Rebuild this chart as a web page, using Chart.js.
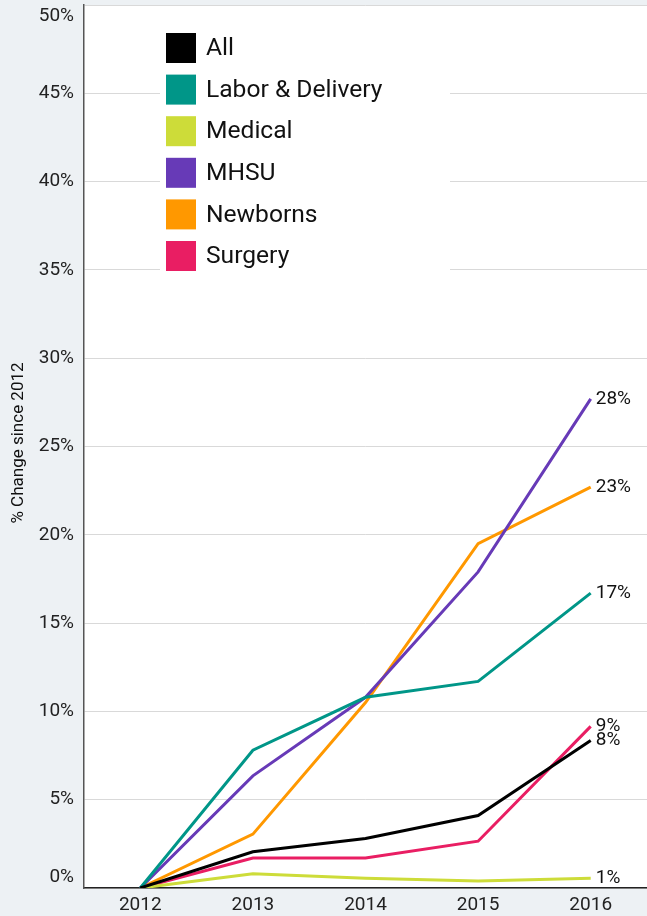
<!DOCTYPE html>
<html>
<head>
<meta charset="utf-8">
<script src="https://cdn.jsdelivr.net/npm/chart.js@4.4.1/dist/chart.umd.min.js"></script>
<style>
html,body{margin:0;padding:0;background:#edf1f4;}
#wrap{position:relative;width:647px;height:916px;}
</style>
</head>
<body>
<div id="wrap"><canvas id="c" width="647" height="916"></canvas></div>
<script>
const years = ['2012','2013','2014','2015','2016'];
const seriesNames = ['All','Labor & Delivery','Medical','MHSU','Newborns','Surgery'];
const allValues      = [0, 2.05, 2.8, 4.1, 8.35];
const laborValues    = [0, 7.8, 10.8, 11.7, 16.7];
const medicalValues  = [0, 0.8, 0.55, 0.4, 0.55];
const mhsuValues     = [0, 6.35, 10.8, 17.9, 27.7];
const newbornValues  = [0, 3.05, 10.5, 19.5, 22.7];
const surgeryValues  = [0, 1.7, 1.7, 2.65, 9.15];
const yTickValues = [0,5,10,15,20,25,30,35,40,45,50];
const yTitle = '% Change since 2012';
const colors = ['#000000','#009688','#cddc39','#673ab7','#ff9800','#e91e63'];
const allSeries = [allValues, laborValues, medicalValues, mhsuValues, newbornValues, surgeryValues];

const FONT = 'Roboto, "Noto Sans", sans-serif';

const bgPlugin = {
  id: 'bg',
  beforeDraw(chart) {
    const {ctx, chartArea: a} = chart;
    ctx.save();
    ctx.fillStyle = '#edf1f4';
    ctx.fillRect(0, 0, chart.width, chart.height);
    ctx.fillStyle = '#ffffff';
    ctx.fillRect(a.left, a.top, a.right - a.left, a.bottom - a.top);
    ctx.restore();
  }
};

const legendPlugin = {
  id: 'inLegend',
  beforeDatasetsDraw(chart) {
    const ctx = chart.ctx;
    ctx.save();
    ctx.fillStyle = '#ffffff';
    ctx.fillRect(160, 22, 290, 256);
    ctx.font = '24.6px ' + FONT;
    ctx.textBaseline = 'middle';
    ctx.textAlign = 'left';
    chart.data.datasets.forEach((ds, i) => {
      const cy = 48 + i * 41.6;
      ctx.fillStyle = ds.borderColor;
      ctx.fillRect(166, cy - 15, 30, 30);
      ctx.fillStyle = '#111111';
      ctx.fillText(ds.label, 206, cy + 1);
    });
    ctx.restore();
  }
};

const labelsPlugin = {
  id: 'labels',
  afterDraw(chart) {
    const ctx = chart.ctx;
    const y = chart.scales.y;
    const a = chart.chartArea;
    ctx.save();
    // y tick labels
    ctx.font = '19px ' + FONT;
    ctx.fillStyle = '#222222';
    ctx.textAlign = 'right';
    ctx.textBaseline = 'middle';
    yTickValues.forEach(v => {
      let py = y.getPixelForValue(v);
      if (py < a.top + 11) py = a.top + 11;
      if (py > a.bottom - 11) py = a.bottom - 11;
      ctx.fillText(v + '%', 74, py);
    });
    // y title
    ctx.save();
    ctx.translate(19, 443);
    ctx.rotate(-Math.PI / 2);
    ctx.textAlign = 'center';
    ctx.textBaseline = 'middle';
    ctx.font = '17px ' + FONT;
    ctx.fillStyle = '#111111';
    ctx.fillText(yTitle, 0, 0);
    ctx.restore();
    // end labels
    ctx.font = '19px ' + FONT;
    ctx.textAlign = 'left';
    ctx.fillStyle = '#111111';
    chart.data.datasets.forEach((ds, i) => {
      const meta = chart.getDatasetMeta(i);
      const pt = meta.data[meta.data.length - 1];
      const val = ds.data[ds.data.length - 1];
      ctx.fillText(Math.round(val) + '%', pt.x + 5, pt.y);
    });
    ctx.restore();
  }
};

new Chart(document.getElementById('c'), {
  type: 'line',
  data: {
    labels: years,
    datasets: seriesNames.map((n, i) => ({
      label: n,
      data: allSeries[i],
      borderColor: colors[i],
      backgroundColor: colors[i],
      borderWidth: 3,
      pointRadius: 0,
      tension: 0,
      fill: false
    }))
  },
  options: {
    responsive: false,
    animation: false,
    layout: { padding: { top: 5, right: 0, left: 0, bottom: 0 } },
    plugins: { legend: { display: false }, tooltip: { enabled: false } },
    scales: {
      x: {
        offset: true,
        grid: { display: false, drawTicks: false },
        border: { color: '#222222', width: 1.5 },
        ticks: { color: '#222222', font: { family: FONT, size: 19 }, padding: 6 },
        afterFit(s) { s.height = 28; }
      },
      y: {
        min: 0, max: 50,
        ticks: { display: false, stepSize: 5 },
        grid: { color: '#d9d9d9', drawTicks: false, lineWidth: 1 },
        border: { color: '#555555', width: 1.5 },
        afterFit(s) { s.width = 84; }
      }
    }
  },
  plugins: [bgPlugin, legendPlugin, labelsPlugin]
});
</script>
</body>
</html>
